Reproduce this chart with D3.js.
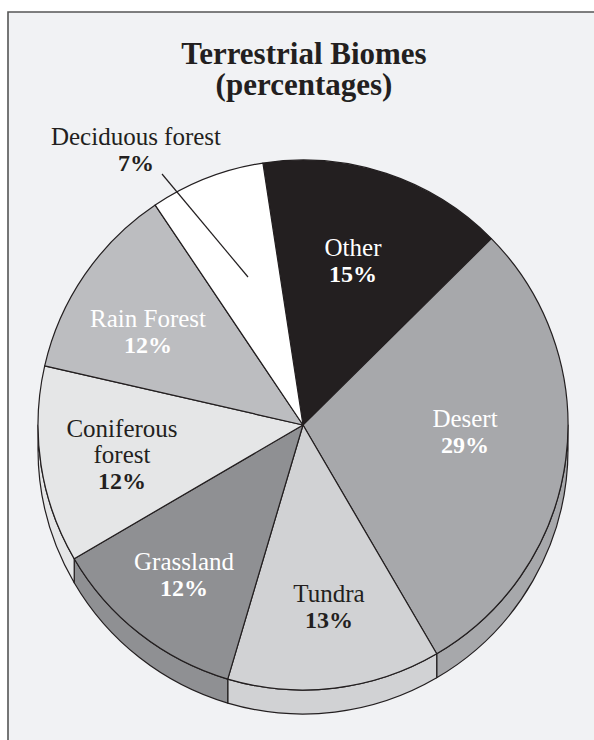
<!DOCTYPE html>
<html>
<head>
<meta charset="utf-8">
<script src="https://cdn.jsdelivr.net/npm/d3@7/dist/d3.min.js"></script>
<style>
html,body{margin:0;padding:0;background:#fff;}
svg{display:block;}
</style>
</head>
<body>
<svg id="chart" width="594" height="740"></svg>
<script>
// ---- data ----
const categories = ["Other", "Desert", "Tundra", "Grassland", "Coniferous forest", "Rain Forest", "Deciduous forest"];
const values = [15, 29, 13, 12, 12, 12, 7];
const valueLabels = ["15%", "29%", "13%", "12%", "12%", "12%", "7%"];
const nameLines = [["Other"], ["Desert"], ["Tundra"], ["Grassland"], ["Coniferous", "forest"], ["Rain Forest"], ["Deciduous forest"]];
const fills = ["#231f20", "#a7a8ab", "#d1d2d4", "#8f9093", "#e5e6e7", "#bcbdc0", "#ffffff"];
const textColors = ["#ffffff", "#ffffff", "#231f20", "#ffffff", "#231f20", "#ffffff", "#231f20"];
const titleLines = ["Terrestrial Biomes", "(percentages)"];

// ---- layout ----
const W = 594, H = 740;
const cx = 303, cy = 425, R = 265, depth = 24;
const startDeg = -8.7;
const deg = Math.PI / 180;
const ink = "#231f20";
const font = "'Liberation Serif', 'Times New Roman', serif";

const svg = d3.select("#chart");
svg.append("rect").attr("x", 0).attr("y", 0).attr("width", W).attr("height", H).attr("fill", "#fff");
svg.append("rect").attr("x", 8).attr("y", 12).attr("width", W).attr("height", H).attr("fill", "#f1f2f4");
svg.append("path").attr("d", `M8,${H} L8,12 L${W},12`).attr("fill", "none").attr("stroke", "#555").attr("stroke-width", 1.6);

// title
titleLines.forEach((ln, i) => {
  svg.append("text").attr("text-anchor", "middle").attr("font-family", font)
    .attr("font-weight", "bold").attr("font-size", 31).attr("fill", ink)
    .attr("x", 304).attr("y", 64 + i * 31).text(ln);
});

const data = categories.map((c, i) => ({ name: c, value: values[i], i }));
const pie = d3.pie().value(d => d.value).sort(null)
  .startAngle(startDeg * deg).endAngle((startDeg + 360) * deg);
const arcs = pie(data);
const arc = d3.arc().innerRadius(0).outerRadius(R);

const g = svg.append("g").attr("transform", `translate(${cx},${cy})`);

// side (thickness) for the lower half
const pt = (a, r, dy) => [r * Math.sin(a), -r * Math.cos(a) + dy];
const lo = Math.PI / 2, hi = 3 * Math.PI / 2;
arcs.forEach(a => {
  const a0 = Math.max(a.startAngle, lo), a1 = Math.min(a.endAngle, hi);
  if (a1 <= a0) return;
  const p0 = pt(a0, R, 0), p1 = pt(a1, R, 0), q1 = pt(a1, R, depth), q0 = pt(a0, R, depth);
  const d = `M${p0[0]},${p0[1]} A${R},${R} 0 0 1 ${p1[0]},${p1[1]} L${q1[0]},${q1[1]} A${R},${R} 0 0 0 ${q0[0]},${q0[1]} Z`;
  g.append("path").attr("d", d).attr("fill", fills[a.data.i]).attr("stroke", ink)
    .attr("stroke-width", 1.2).attr("stroke-linejoin", "round");
});

// top face
g.selectAll("path.slice").data(arcs).join("path").attr("class", "slice")
  .attr("d", arc).attr("fill", d => fills[d.data.i]).attr("stroke", ink)
  .attr("stroke-width", 1.2).attr("stroke-linejoin", "round");

// labels (label centers)
const labelPos = [[353, 256], [465, 427], [329, 602], [184, 570], [122, 437], [148, 327], [136, 145]];
data.forEach((d, i) => {
  const [x, y] = labelPos[i];
  const lines = nameLines[i];
  lines.forEach((ln, k) => {
    svg.append("text").attr("text-anchor", "middle").attr("font-family", font)
      .attr("fill", textColors[i]).attr("font-size", 25)
      .attr("x", x).attr("y", y + k * 26).text(ln);
  });
  svg.append("text").attr("text-anchor", "middle").attr("font-family", font)
    .attr("fill", textColors[i]).attr("font-weight", "bold").attr("font-size", 24)
    .attr("x", x).attr("y", y + lines.length * 26).text(valueLabels[i]);
});

// leader line for Deciduous forest
svg.append("line").attr("x1", 162).attr("y1", 174).attr("x2", 248).attr("y2", 277)
  .attr("stroke", ink).attr("stroke-width", 1.2);
</script>
</body>
</html>
